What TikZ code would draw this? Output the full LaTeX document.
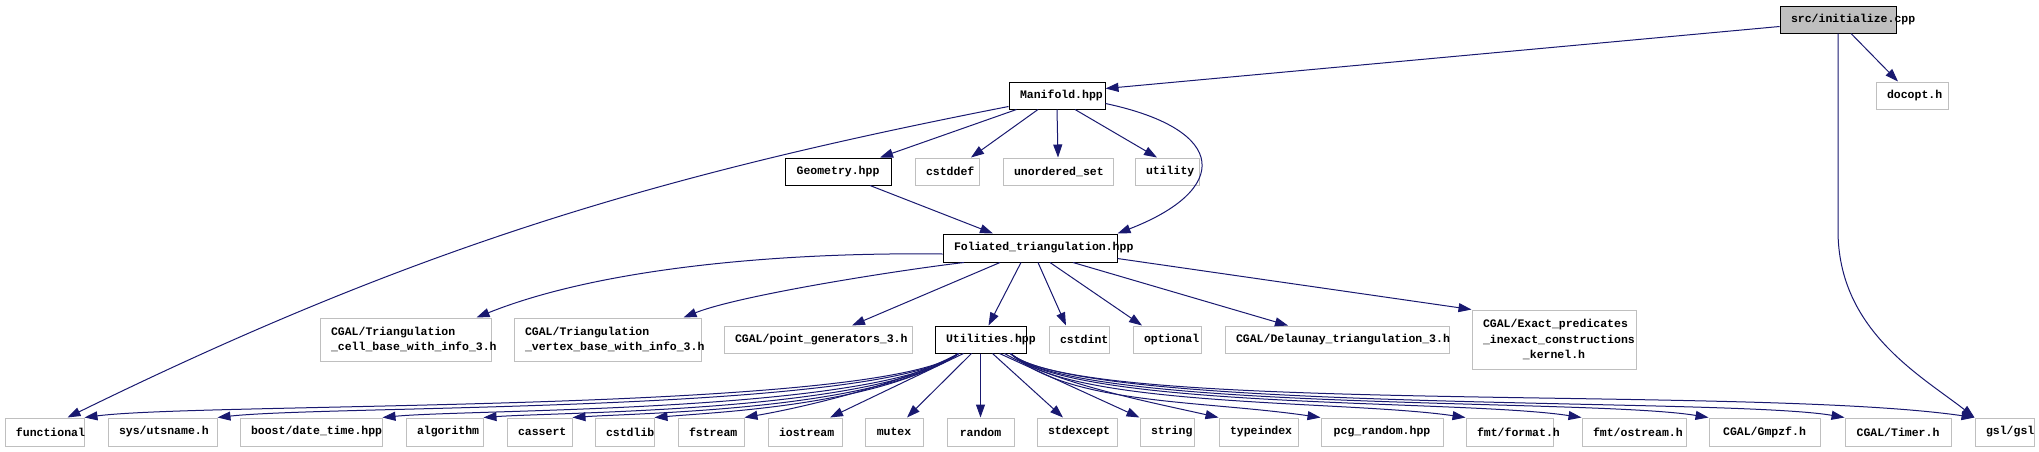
\documentclass[tikz,border=0pt]{standalone}
\usepackage{fontspec}
\setmonofont{Liberation Mono}
\usetikzlibrary{arrows.meta}
\definecolor{edgec}{HTML}{191970}
\definecolor{extc}{HTML}{BFBFBF}
\begin{document}
\begin{tikzpicture}[x=1pt,y=-1pt,
 nd/.style={rectangle, inner xsep=11pt, inner ysep=0pt, line width=1pt, align=center,
   font={\ttfamily\bfseries\fontsize{11.5}{15.6}\selectfont\hyphenpenalty10000\exhyphenpenalty10000}},
 doc/.style={nd, draw=black},
 ext/.style={nd, draw=extc},
 r1/.style={minimum height=27pt},
 r5/.style={minimum height=28pt},
 dep/.style={draw=edgec, line width=1pt, -{Triangle[length=13pt,width=9pt]}},
]
\useasboundingbox (0,0) rectangle (2039,451);

% row 0
\node[nd, draw=black, fill=extc, text width=94pt, r1] (src) at (1838,19.5) {src/initialize.cpp};
% row 1
\node[doc, text width=74pt, r1] (man) at (1057,95.5) {Manifold.hpp};
\node[ext, text width=50pt, r1] (docopt) at (1912,95.5) {docopt.h};
% row 2
\node[doc, text width=84pt, r1] (geo) at (838,171.5) {Geometry.hpp};
\node[ext, text width=42pt, r1] (cstddef) at (947,171.5) {cstddef};
\node[ext, text width=88pt, r1] (unord) at (1058,171.5) {unordered\_set};
\node[ext, text width=42pt, r1] (utility) at (1167,171.5) {utility};
% row 3
\node[doc, text width=152pt, r5] (fol) at (1030,248) {Foliated\_triangulation.hpp};
% row 4
\node[ext, text width=149pt, minimum height=43pt, align=left] (cell) at (405.5,339.5) {CGAL/Triangulation\\\_cell\_base\_with\_info\_3.h};
\node[ext, text width=165pt, minimum height=43pt, align=left] (vert) at (607.5,339.5) {CGAL/Triangulation\\\_vertex\_base\_with\_info\_3.h};
\node[ext, text width=166pt, r1] (pg) at (818,339.5) {CGAL/point\_generators\_3.h};
\node[doc, text width=69pt, r1] (u) at (980.5,339.5) {Utilities.hpp};
\node[ext, text width=38pt, r1] (cstdint) at (1079,339.5) {cstdint};
\node[ext, text width=46pt, r1] (optional) at (1167,339.5) {optional};
\node[ext, text width=202pt, r1] (del) at (1337,339.5) {CGAL/Delaunay\_triangulation\_3.h};
\node[ext, text width=142pt, minimum height=59pt] (exact) at (1554,339.5) {CGAL/Exact\_predicates\\\_inexact\_constructions\\\_kernel.h};
% row 5
\node[ext, text width=57pt, r5] (functional) at (44.5,432) {functional};
\node[ext, text width=87pt, r5] (utsname) at (162.5,432) {sys/utsname.h};
\node[ext, text width=120pt, r5] (datetime) at (311,432) {boost/date\_time.hpp};
\node[ext, text width=55pt, r5] (algorithm) at (444.5,432) {algorithm};
\node[ext, text width=43pt, r5] (cassert) at (539.5,432) {cassert};
\node[ext, text width=37pt, r5] (cstdlib) at (624.5,432) {cstdlib};
\node[ext, text width=44pt, r5] (fstream) at (711,432) {fstream};
\node[ext, text width=52pt, r5] (iostream) at (805,432) {iostream};
\node[ext, text width=36pt, r5] (mutex) at (894,432) {mutex};
\node[ext, text width=45pt, r5] (random) at (980.5,432) {random};
\node[ext, text width=58pt, r5] (stdexcept) at (1077,432) {stdexcept};
\node[ext, text width=32pt, r5] (string) at (1167,432) {string};
\node[ext, text width=57pt, r5] (typeindex) at (1258.5,432) {typeindex};
\node[ext, text width=100pt, r5] (pcg) at (1382,432) {pcg\_random.hpp};
\node[ext, text width=65pt, r5] (fmtformat) at (1509.5,432) {fmt/format.h};
\node[ext, text width=82pt, r5] (fmtostream) at (1634,432) {fmt/ostream.h};
\node[ext, text width=89pt, r5] (gmpzf) at (1764.5,432) {CGAL/Gmpzf.h};
\node[ext, text width=84pt, r5] (timer) at (1898,432) {CGAL/Timer.h};
\node[ext, text width=37pt, r5] (gsl) at (2004.5,432) {gsl/gsl};

% src edges
\draw[dep] ([yshift=-7pt]src.west) -- ([yshift=7pt]man.east);
\draw[dep] ([xshift=13pt]src.south) -- ([xshift=-14pt]docopt.north);
\draw[dep] (src.south) -- ++(0,197) .. controls (1838,330) and (1920,375) .. (gsl.north west);

% Manifold edges
\draw[dep] ([yshift=3pt]man.south west) .. controls (658,175) and (418,246) .. ([xshift=23pt]functional.north);
\draw[dep] ([xshift=8pt]man.south west) -- ([xshift=42pt]geo.north);
\draw[dep] ([xshift=-19pt]man.south) -- ([xshift=24pt]cstddef.north);
\draw[dep] (man.south) -- (unord.north);
\draw[dep] ([xshift=18pt]man.south) -- ([xshift=-10pt]utility.north);
\draw[dep] ([yshift=-8pt]man.east) .. controls (1230,130) and (1230,190) .. (fol.north east);

% Geometry edge
\draw[dep] ([xshift=32pt]geo.south) -- ([xshift=-37pt]fol.north);

% Foliated edges
\draw[dep] ([yshift=-6pt]fol.west) .. controls (780,252) and (600,268) .. ([xshift=71pt]cell.north);
\draw[dep] ([xshift=-66pt]fol.south) .. controls (900,270) and (740,295) .. ([xshift=76pt]vert.north);
\draw[dep] ([xshift=-30pt]fol.south) -- ([xshift=34pt]pg.north);
\draw[dep] ([xshift=-9pt]fol.south) -- ([xshift=8pt]u.north);
\draw[dep] ([xshift=8pt]fol.south) -- ([xshift=-13pt]cstdint.north);
\draw[dep] ([xshift=20pt]fol.south) -- ([xshift=-25pt]optional.north);
\draw[dep] ([xshift=43pt]fol.south) -- ([xshift=-49pt]del.north);
\draw[dep] ([yshift=4pt]fol.south east) -- (exact.north west);

% Utilities edges
\draw[dep] ([xshift=-22pt]u.south) .. controls (880,413) and (205,402) .. (functional.north east);
\draw[dep] ([xshift=-22pt]u.south) .. controls (880,413) and (330,405) .. (utsname.north east);
\draw[dep] ([xshift=-22pt]u.south) .. controls (880,413) and (470,409) .. (datetime.north east);
\draw[dep] ([xshift=-22pt]u.south) .. controls (880,412) and (560,412) .. (algorithm.north east);
\draw[dep] ([xshift=-22pt]u.south) .. controls (880,410) and (640,413) .. (cassert.north east);
\draw[dep] ([xshift=-22pt]u.south) .. controls (880,405) and (720,412) .. (cstdlib.north east);
\draw[dep] ([xshift=-22pt]u.south) .. controls (900,385) and (800,408) .. (fstream.north east);
\draw[dep] ([xshift=-17pt]u.south) -- ([xshift=25pt]iostream.north);
\draw[dep] ([xshift=-9pt]u.south) -- ([xshift=13pt]mutex.north);
\draw[dep] (u.south) -- (random.north);
\draw[dep] ([xshift=12pt]u.south) -- ([xshift=-14pt]stdexcept.north);
\draw[dep] ([xshift=19pt]u.south) -- (string.north west);
\draw[dep] ([xshift=24pt]u.south) .. controls (1060,385) and (1150,402) .. (typeindex.north west);
\draw[dep] ([xshift=30pt]u.south) .. controls (1070,405) and (1200,400) .. (pcg.north west);
\draw[dep] ([xshift=30pt]u.south) .. controls (1070,408) and (1345,400) .. (fmtformat.north west);
\draw[dep] ([xshift=30pt]u.south) .. controls (1075,410) and (1460,399) .. (fmtostream.north west);
\draw[dep] ([xshift=30pt]u.south) .. controls (1075,412) and (1590,398) .. (gmpzf.north west);
\draw[dep] ([xshift=30pt]u.south) .. controls (1080,413) and (1725,397) .. (timer.north west);
\draw[dep] ([xshift=30pt]u.south) .. controls (1080,415) and (1750,385) .. (gsl.north west);
\end{tikzpicture}
\end{document}
